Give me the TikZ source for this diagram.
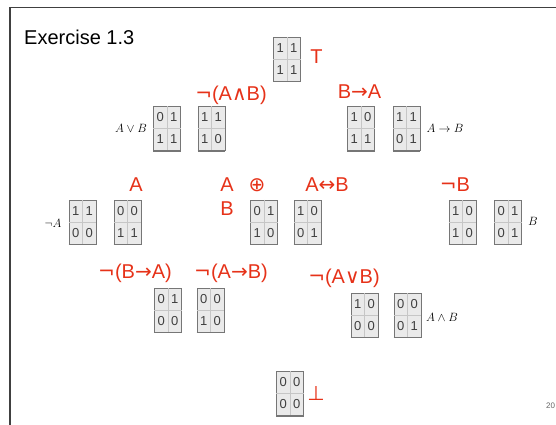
\documentclass[tikz,border=0pt]{standalone}
\usepackage{fontspec}
\setmainfont{Liberation Sans}
\newfontfamily\symfont{DejaVu Sans}
\definecolor{slidered}{RGB}{230,50,25}
\definecolor{cellgray}{RGB}{234,234,234}
\definecolor{framegray}{RGB}{118,118,118}

\begin{document}
\begin{tikzpicture}[x=1pt,y=-1pt]
    \tikzstyle{kbox}=[draw=framegray, fill=cellgray, line width=0.8pt, minimum width=27pt, minimum height=44pt, inner sep=0pt]
    \tikzstyle{kdig}=[font=\fontsize{13}{15}\selectfont, text=black!75, inner sep=0pt]
    \tikzstyle{rlab}=[font=\fontsize{20}{23}\selectfont, text=slidered, inner sep=0pt]
    \tikzstyle{mlab}=[font=\fontsize{12}{14}\selectfont, inner sep=0pt]

    \useasboundingbox (0,0) rectangle (556,424);
    \draw[black!75, line width=1.4pt] (10,440) -- (10,7.5) -- (570,7.5);
    \node[anchor=west, font=\fontsize{20}{24}\selectfont, inner sep=0pt] (title) at (24,37) {Exercise 1.3};

    % the sixteen truth tables
    \foreach \n/\x/\y/\a/\b/\c/\d in {top/287/59/1/1/1/1,
        avb/167/128.5/0/1/1/1, nand/211.5/128.5/1/1/1/0, bimpa/361/128.5/1/0/1/1, aimpb/406.5/128.5/1/1/0/1,
        nota/82.5/222/1/1/0/0, a/127.5/222/0/0/1/1, xor/264/222/0/1/1/0, iff/307.5/222/1/0/0/1,
        notb/462.5/222/1/0/1/0, b/508/222/0/1/0/1,
        nbimpa/168/310/0/1/0/0, naimpb/210.5/310/0/0/1/0, nor/364.5/315/1/0/0/0, and/407.5/315/0/0/0/1,
        bot/290/393.5/0/0/0/0}
      {\node[kbox] (\n) at (\x,\y) {};
       \draw[gray!45, line width=0.6pt] (\n.north) -- (\n.south) (\n.west) -- (\n.east);
       \draw[framegray, line width=1.5pt] (\n.south west) -- (\n.south east);
       \node[kdig] (\n-a) at (\x-6.75,\y-11) {\a};
       \node[kdig] (\n-b) at (\x+6.75,\y-11) {\b};
       \node[kdig] (\n-c) at (\x-6.75,\y+11) {\c};
       \node[kdig] (\n-d) at (\x+6.75,\y+11) {\d};}

    % red names
    \node[rlab] (l-top) at (316.5,57) {T};
    \node[rlab] (l-nand) at (231,95) {{\symfont ¬}(A{\symfont ∧}B)};
    \node[rlab] (l-bimpa) at (359.5,92) {B{\symfont →}A};
    \node[rlab] (l-a) at (136,185) {A};
    \node[rlab] (l-xa) at (227,185) {A};
    \node[rlab] (l-xor) at (257,185) {\symfont ⊕};
    \node[rlab] (l-xb) at (227,209) {B};
    \node[rlab] (l-iff) at (327,185) {A{\symfont ↔}B};
    \node[rlab] (l-notb) at (455,185) {{\symfont ¬}B};
    \node[rlab] (l-nbimpa) at (135,273) {{\symfont ¬}(B{\symfont →}A)};
    \node[rlab] (l-naimpb) at (231,273) {{\symfont ¬}(A{\symfont →}B)};
    \node[rlab] (l-nor) at (344,278) {{\symfont ¬}(A{\symfont ∨}B)};
    \node[rlab] (l-bot) at (316,393) {\symfont ⊥};

    % math names
    \node[mlab] (m-avb) at (131,128) {$A\vee B$};
    \node[mlab] (m-aimpb) at (445,128) {$A\to B$};
    \node[mlab] (m-nota) at (53,223) {$\neg A$};
    \node[mlab] (m-b) at (533,221) {$B$};
    \node[mlab] (m-and) at (442,317) {$A\wedge B$};

    \node[anchor=west, font=\fontsize{8}{9}\selectfont, text=black!60, inner sep=0pt] (page) at (546,406) {20};
\end{tikzpicture}
\end{document}
